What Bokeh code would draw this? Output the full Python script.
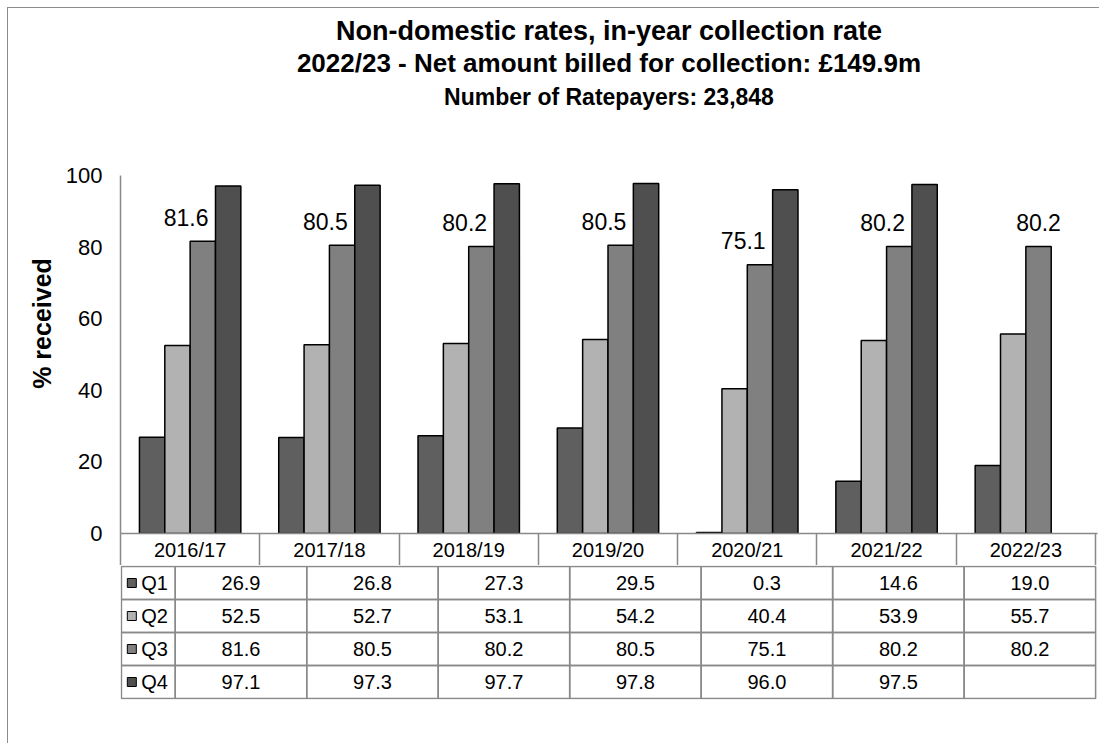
from bokeh.plotting import figure
from bokeh.models import Range1d, FixedTicker, Title
from bokeh.layouts import column
from bokeh.embed import file_html
from bokeh.resources import INLINE
from bokeh.core.properties import value

# ---------------- data ----------------
years = ["2016/17", "2017/18", "2018/19", "2019/20", "2020/21", "2021/22", "2022/23"]
q1 = [26.9, 26.8, 27.3, 29.5, 0.3, 14.6, 19.0]
q2 = [52.5, 52.7, 53.1, 54.2, 40.4, 53.9, 55.7]
q3 = [81.6, 80.5, 80.2, 80.5, 75.1, 80.2, 80.2]
q4 = [97.1, 97.3, 97.7, 97.8, 96.0, 97.5, None]
series_names = ["Q1", "Q2", "Q3", "Q4"]
series_values = [q1, q2, q3, q4]
colors = ["#5f5f5f", "#b2b2b2", "#808080", "#4f4f4f"]
y_ticks = [0, 20, 40, 60, 80, 100]
title_lines = [
    "Non-domestic rates, in-year collection rate",
    "2022/23 - Net amount billed for collection: £149.9m",
    "Number of Ratepayers: 23,848",
]
y_label = "% received"

# ---------------- layout constants ----------------
FONT = "Liberation Sans"
GRID = "#898989"
PX = 975 / 7.0          # pixels per category
YPX = 3.58              # pixels per percentage point
TOP_GAP = 62            # blank pixels between the 100 line and the titles
offsets = [-0.273, -0.091, 0.091, 0.273]
bar_w = 0.182
n = len(years)
idx = list(range(n))

# ---------------- top figure: bars, axis, header row as x axis ----------------
p1 = figure(width=1091, height=557,
            x_range=Range1d(0, 977 / PX),
            y_range=Range1d(0, 100 + TOP_GAP / YPX),
            output_backend="svg", toolbar_location=None,
            min_border_left=112, min_border_right=2,
            min_border_top=167 - TOP_GAP, min_border_bottom=32)
p1.outline_line_color = None
p1.xgrid.visible = False
p1.ygrid.visible = False

ax = p1.yaxis[0]
ax.ticker = FixedTicker(ticks=y_ticks)
ax.bounds = (0, 100)
ax.major_tick_line_color = None
ax.minor_tick_line_color = None
ax.axis_line_color = GRID
ax.axis_line_width = 1.5
ax.major_label_text_font = FONT
ax.major_label_text_font_size = "22px"
ax.major_label_text_color = "black"
ax.major_label_standoff = 12
ax.axis_label = y_label
ax.axis_label_text_font = FONT
ax.axis_label_text_font_size = "25px"
ax.axis_label_text_font_style = "bold"
ax.axis_label_text_color = "black"
ax.axis_label_standoff = 7

# x axis = header row of the data table (minor ticks draw the cell borders)
xa = p1.xaxis[0]
xa.ticker = FixedTicker(ticks=[i + 0.5 for i in idx], minor_ticks=list(range(n + 1)))
xa.major_label_overrides = {i + 0.5: years[i] for i in idx}
xa.major_tick_line_color = None
xa.major_tick_in = 0
xa.major_tick_out = 0
xa.minor_tick_line_color = GRID
xa.minor_tick_line_width = 1.5
xa.minor_tick_in = 0
xa.minor_tick_out = 32
xa.axis_line_color = GRID
xa.axis_line_width = 1.5
xa.major_label_text_font = FONT
xa.major_label_text_font_size = "20px"
xa.major_label_text_color = "black"
xa.major_label_standoff = -27

# titles: p1.title is outermost; Titles added first sit closest to the plot
p1.add_layout(Title(text=title_lines[2], align="center", text_font=FONT,
                    text_font_size="23px", text_font_style="bold",
                    text_color="black", standoff=8), "above")
p1.add_layout(Title(text=title_lines[1], align="center", text_font=FONT,
                    text_font_size="26px", text_font_style="bold",
                    text_color="black", standoff=0), "above")
p1.title.text = title_lines[0]
p1.title.align = "center"
p1.title.text_font = FONT
p1.title.text_font_size = "27px"
p1.title.text_font_style = "bold"
p1.title.text_color = "black"
p1.title.standoff = 0

# bars
for k, vals in enumerate(series_values):
    xs = [i + 0.5 + offsets[k] for i in idx if vals[i] is not None]
    tops = [v for v in vals if v is not None]
    p1.vbar(x=xs, top=tops, bottom=0, width=bar_w,
            fill_color=colors[k], line_color="black", line_width=1.5)

# data labels on Q3
lab_x, lab_y, lab_t, lab_a = [], [], [], []
for i in idx:
    lab_y.append(q3[i])
    lab_t.append(f"{q3[i]:.1f}")
    if q4[i] is not None:
        lab_x.append(i + 0.5 + offsets[2] + bar_w / 2)
        lab_a.append("right")
    else:
        lab_x.append(i + 0.5 + offsets[2])
        lab_a.append("center")
p1.text(x=lab_x, y=lab_y, text=lab_t, text_align=lab_a,
        x_offset=[-7 if a == "right" else 0 for a in lab_a], y_offset=-24,
        text_baseline="middle", text_font=value(FONT),
        text_font_size="23px", text_color="black")

# ---------------- bottom figure: data table ----------------
ROW = 33.0
LEG_W = 57 / PX
p2 = figure(width=1091, height=178,
            x_range=Range1d(-58 / PX, 977 / PX),
            y_range=Range1d(4 - 133 / ROW, 4 + 1 / ROW),
            output_backend="svg", toolbar_location=None,
            x_axis_location=None, y_axis_location=None,
            min_border_left=54, min_border_right=2,
            min_border_top=0, min_border_bottom=44)
p2.outline_line_color = None
p2.xgrid.visible = False
p2.ygrid.visible = False

for r, (name, vals) in enumerate(zip(series_names, series_values)):
    top = 4 - r
    p2.quad(left=idx, right=[i + 1 for i in idx], top=top, bottom=top - 1,
            fill_color=None, line_color=GRID, line_width=1.5)
    p2.quad(left=[-LEG_W], right=[0], top=top, bottom=top - 1,
            fill_color=None, line_color=GRID, line_width=1.5)
    p2.scatter(x=[-LEG_W + 11 / PX], y=[top - 0.5], marker="square", size=9,
               fill_color=colors[r], line_color="black", line_width=1)
    p2.text(x=[-LEG_W + 21 / PX], y=[top - 0.5], text=[name],
            text_align="left", text_baseline="middle",
            text_font=value(FONT), text_font_size="20px", text_color="black")
    cell_x = [i + 0.5 for i in idx]
    cell_t = ["" if v is None else f"{v:.1f}" for v in vals]
    p2.text(x=cell_x, y=top - 0.5, text=cell_t,
            text_align="center", text_baseline="middle",
            text_font=value(FONT), text_font_size="20px", text_color="black")

layout = column(p1, p2, spacing=0,
                styles={"border-left": "1px solid #8c8c8c",
                        "border-top": "1px solid #8c8c8c",
                        "margin-left": "7px", "margin-top": "7px"})

open("out.html", "w").write(file_html(layout, INLINE))
